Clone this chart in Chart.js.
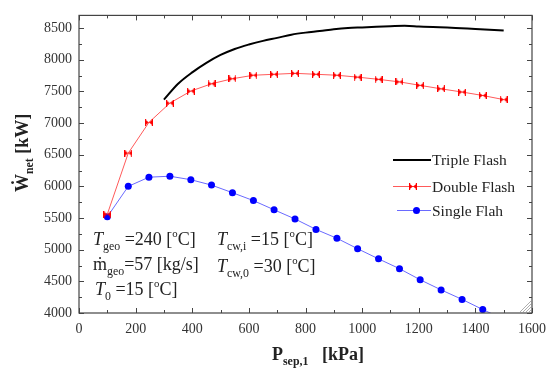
<!DOCTYPE html>
<html>
<head>
<meta charset="utf-8">
<script src="https://cdn.jsdelivr.net/npm/chart.js@4/dist/chart.umd.min.js"></script>
<style>
html,body{margin:0;padding:0;background:#fff;}
#wrap{position:relative;width:554px;height:372px;}
</style>
</head>
<body>
<div id="wrap"><canvas id="c"></canvas></div>
<script>
// ---- data ----
const pressure = [100,174,247,321,395,468,542,616,689,763,837,911,984,1058,1132,1205,1279,1353,1426,1500];
const singleFlash = [5520,6000,6145,6160,6105,6020,5900,5775,5630,5485,5320,5180,5015,4855,4700,4525,4365,4215,4055,3900];
const doubleFlash = [5560,6525,7010,7315,7505,7620,7700,7755,7770,7785,7770,7755,7725,7690,7650,7595,7540,7490,7435,7370];
const triplePressure = [300,350,400,450,500,550,600,650,700,750,800,850,900,950,1000,1050,1100,1150,1200,1250,1300,1350,1400,1450,1500];
const tripleFlash = [7370,7620,7800,7950,8075,8170,8240,8298,8345,8395,8428,8452,8480,8500,8510,8520,8528,8535,8525,8515,8508,8497,8487,8475,8460];
const seriesLabels = ['Triple Flash','Double Flash','Single Flah'];
const xTicks = [0,200,400,600,800,1000,1200,1400,1600];
const yTicks = [4000,4500,5000,5500,6000,6500,7000,7500,8000,8500];

const SERIF = '"Liberation Serif","Times New Roman",serif';

// bowtie marker for Double Flash
function bowtie(){
  const c = document.createElement('canvas');
  c.width = 8; c.height = 7;
  const g = c.getContext('2d');
  g.fillStyle = '#ff0000';
  g.beginPath(); g.moveTo(0,0.5); g.lineTo(4,3.5); g.lineTo(0,6.5); g.closePath(); g.fill();
  g.beginPath(); g.moveTo(8,0.5); g.lineTo(4,3.5); g.lineTo(8,6.5); g.closePath(); g.fill();
  g.fillRect(0,0,1.2,7); g.fillRect(6.8,0,1.2,7);
  return c;
}
const bowImg = bowtie();

const toXY = (xs, ys) => xs.map((x,i)=>({x:x, y:ys[i]}));

function drawRich(ctx, x, y, parts, size){
  let cx = x;
  for (const p of parts){
    let fs = size, dy = 0, style = p.i ? 'italic ' : '';
    const weight = p.b ? 'bold ' : '';
    if (p.sub){ fs = size*0.66; dy = size*0.28; }
    if (p.sup){ fs = size*0.6; dy = -size*0.42; }
    ctx.font = style + weight + fs + 'px ' + SERIF;
    ctx.fillText(p.t, cx, y + dy);
    cx += ctx.measureText(p.t).width;
  }
  return cx;
}

const decor = {
  id:'decor',
  afterDraw(chart){
    const ctx = chart.ctx, a = chart.chartArea;
    const xs = chart.scales.x, ys = chart.scales.y;
    ctx.save();
    // frame
    ctx.strokeStyle = '#444'; ctx.lineWidth = 1.2;
    ctx.strokeRect(a.left, a.top, a.right - a.left, a.bottom - a.top);
    // inward ticks
    ctx.lineWidth = 1;
    for (let v = 0; v <= 1600; v += 100){
      const px = Math.round(xs.getPixelForValue(v)) + 0.5;
      const L = (v % 200 === 0) ? 5 : 3;
      ctx.beginPath();
      ctx.moveTo(px, a.bottom); ctx.lineTo(px, a.bottom - L);
      ctx.moveTo(px, a.top); ctx.lineTo(px, a.top + L);
      ctx.stroke();
    }
    for (let v = 4000; v <= 8500; v += 250){
      const py = Math.round(ys.getPixelForValue(v)) + 0.5;
      const L = (v % 500 === 0) ? 5 : 3;
      ctx.beginPath();
      ctx.moveTo(a.left, py); ctx.lineTo(a.left + L, py);
      ctx.moveTo(a.right, py); ctx.lineTo(a.right - L, py);
      ctx.stroke();
    }
    // resize grip in corner
    ctx.strokeStyle = '#999'; ctx.lineWidth = 0.8;
    for (let k = 0; k < 4; k++){
      ctx.beginPath();
      ctx.moveTo(a.right - 3 - k*3, a.bottom - 1);
      ctx.lineTo(a.right - 1, a.bottom - 3 - k*3);
      ctx.stroke();
    }

    ctx.fillStyle = '#222';
    ctx.textBaseline = 'alphabetic';
    ctx.textAlign = 'left';
    // x title
    drawRich(ctx, 272, 360, [{t:'P',b:1},{t:'sep,1',b:1,sub:1},{t:'   [kPa]',b:1}], 18);
    // y title (rotated)
    ctx.save();
    ctx.translate(28, 192);
    ctx.rotate(-Math.PI/2);
    drawRich(ctx, 0, 0, [{t:'Ẇ',b:1},{t:'net',b:1,sub:1},{t:' [kW]',b:1}], 18);
    ctx.restore();

    // annotations
    const S = 18;
    drawRich(ctx, 93, 245, [{t:'T',i:1},{t:'geo',sub:1},{t:' =240 ['},{t:'o',sup:1},{t:'C]'}], S);
    drawRich(ctx, 93, 270, [{t:'ṁ'},{t:'geo',sub:1},{t:'=57 [kg/s]'}], S);
    drawRich(ctx, 95, 295, [{t:'T',i:1},{t:'0',sub:1},{t:' =15 ['},{t:'o',sup:1},{t:'C]'}], S);
    drawRich(ctx, 217, 245, [{t:'T',i:1},{t:'cw,i',sub:1},{t:' =15 ['},{t:'o',sup:1},{t:'C]'}], S);
    drawRich(ctx, 217, 272, [{t:'T',i:1},{t:'cw,0',sub:1},{t:' =30 ['},{t:'o',sup:1},{t:'C]'}], S);

    // legend
    const ds = chart.data.datasets;
    const rows = [160, 186.5, 210.5];
    ctx.font = '15.5px ' + SERIF;
    ctx.textBaseline = 'middle';
    ds.forEach((d, i) => {
      const y = rows[i];
      const x0 = (i === 2) ? 397 : 393, x1 = 431;
      ctx.strokeStyle = d.borderColor; ctx.lineWidth = d.borderWidth;
      ctx.beginPath(); ctx.moveTo(x0, y); ctx.lineTo(x1, y); ctx.stroke();
      if (i === 1) ctx.drawImage(bowImg, 413 - 4, y - 3.5);
      if (i === 2){ ctx.fillStyle = '#0000ff'; ctx.beginPath(); ctx.arc(416.5, y, 3.5, 0, Math.PI*2); ctx.fill(); }
      ctx.fillStyle = '#222';
      ctx.fillText(d.label, 432, y + 1);
    });
    ctx.restore();
  }
};

new Chart(document.getElementById('c'), {
  type: 'line',
  data: {
    datasets: [
      { label: seriesLabels[0], data: toXY(triplePressure, tripleFlash), borderColor: '#000000', borderWidth: 2, pointRadius: 0, cubicInterpolationMode: 'monotone', fill: false },
      { label: seriesLabels[1], data: toXY(pressure, doubleFlash), borderColor: '#ff5a5a', borderWidth: 1, pointStyle: bowImg, pointRadius: 4, fill: false, tension: 0 },
      { label: seriesLabels[2], data: toXY(pressure, singleFlash), borderColor: '#6a6aff', borderWidth: 1, pointStyle: 'circle', pointRadius: 3.5, pointBackgroundColor: '#0000ff', pointBorderColor: '#0000ff', pointBorderWidth: 0, fill: false, tension: 0 }
    ]
  },
  options: {
    responsive: true,
    maintainAspectRatio: false,
    animation: false,
    devicePixelRatio: 1,
    layout: { padding: { left: 0, top: 6, right: 15, bottom: 0 } },
    plugins: { legend: { display: false }, tooltip: { enabled: false } },
    scales: {
      x: {
        type: 'linear', min: 0, max: 1600,
        afterBuildTicks: s => { s.ticks = xTicks.map(v => ({value: v})); },
        afterFit: s => { s.height = 59; },
        ticks: { font: { family: SERIF, size: 14 }, color: '#333', padding: 8, maxRotation: 0, callback: v => String(v) },
        grid: { display: false, drawTicks: false },
        border: { display: false }
      },
      y: {
        type: 'linear', min: 4000, max: 8700,
        afterBuildTicks: s => { s.ticks = yTicks.map(v => ({value: v})); },
        afterFit: s => { s.width = 79; },
        ticks: { font: { family: SERIF, size: 14 }, color: '#333', padding: 7, callback: v => String(v) },
        grid: { display: false, drawTicks: false },
        border: { display: false }
      }
    }
  },
  plugins: [decor]
});
</script>
</body>
</html>
